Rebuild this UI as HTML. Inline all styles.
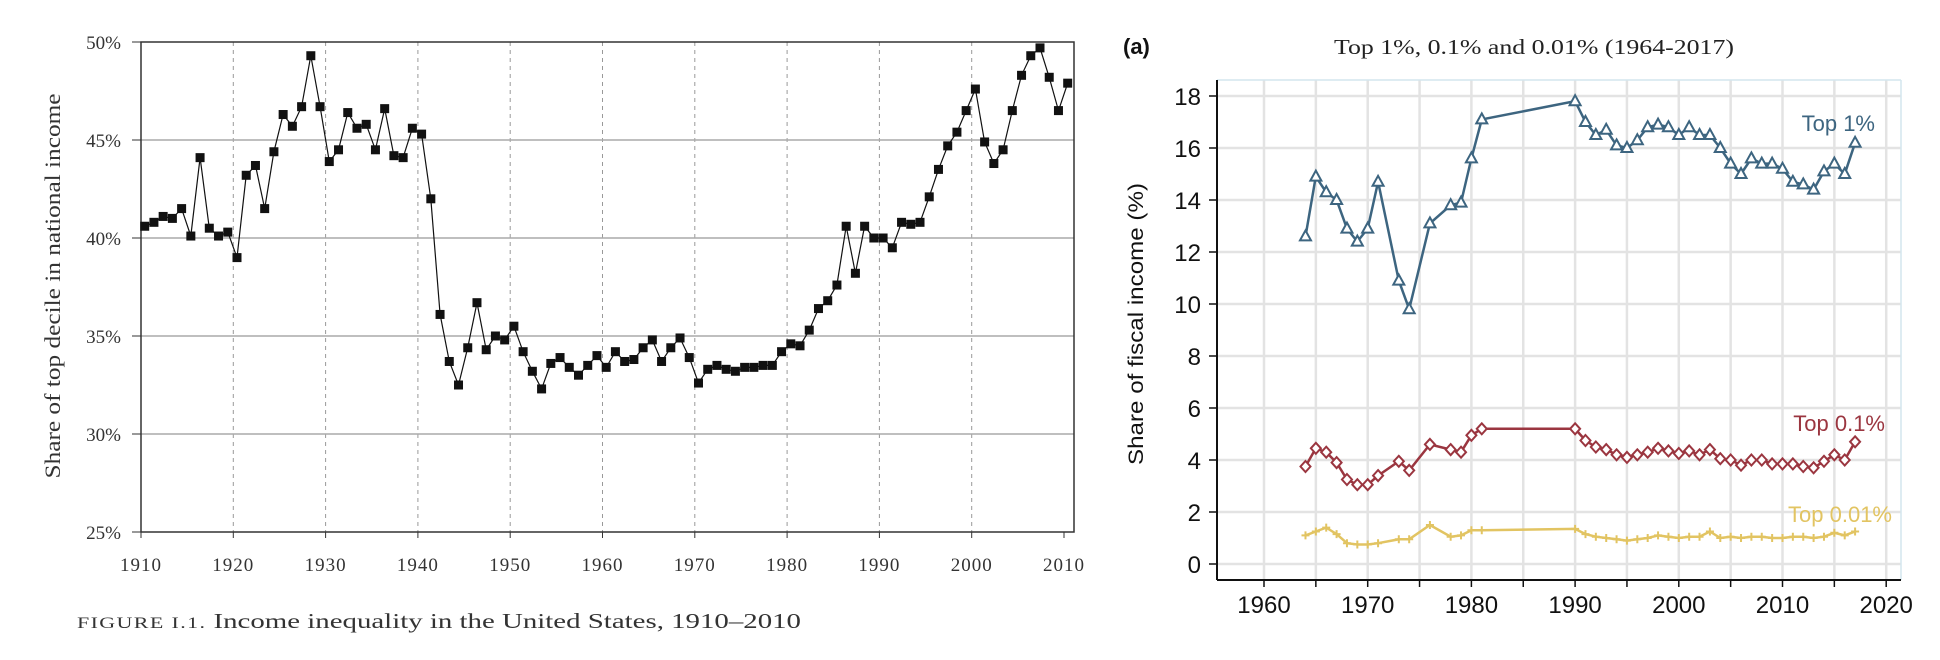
<!DOCTYPE html>
<html><head><meta charset="utf-8"><style>
body{margin:0;background:#fff;width:1940px;height:660px;overflow:hidden}
svg{display:block}
.s{font-family:"Liberation Serif",serif}
.a{font-family:"Liberation Sans",sans-serif}
</style></head><body>
<svg id="c" width="1940" height="660" xmlns="http://www.w3.org/2000/svg"></svg>
<script>
var S=document.getElementById('c'),h='';
// LEFT
var L=141,R=1074,T=42,B=532;
function lx(y){return L+(y-1910)*9.23}
function ly(v){return B-(v-25)*19.6}
for(var d=1920;d<=2000;d+=10)h+='<line x1="'+lx(d)+'" y1="'+T+'" x2="'+lx(d)+'" y2="'+B+'" stroke="#999" stroke-dasharray="4,4" stroke-width="1"/>';
for(var v=30;v<=45;v+=5)h+='<line x1="'+L+'" y1="'+ly(v)+'" x2="'+R+'" y2="'+ly(v)+'" stroke="#aaa" stroke-width="1.5"/>';
h+='<rect x="'+L+'" y="'+T+'" width="'+(R-L)+'" height="'+(B-T)+'" fill="none" stroke="#333" stroke-width="1.5"/>';
for(var v=25;v<=50;v+=5){h+='<line x1="'+(L-9)+'" y1="'+ly(v)+'" x2="'+L+'" y2="'+ly(v)+'" stroke="#333"/>';h+='<text class="s" x="'+(L-20)+'" y="'+(ly(v)+7)+'" font-size="19" text-anchor="end" fill="#333">'+v+'%</text>';}
for(var d=1910;d<=2010;d+=10){h+='<line x1="'+lx(d)+'" y1="'+B+'" x2="'+lx(d)+'" y2="'+(B+6)+'" stroke="#333"/>';h+='<text class="s" x="'+lx(d)+'" y="571" font-size="19" text-anchor="middle" fill="#333" letter-spacing="1">'+d+'</text>';}
h+='<text class="s" transform="translate(60,286) rotate(-90)" font-size="22" text-anchor="middle" fill="#333" textLength="385" lengthAdjust="spacingAndGlyphs">Share of top decile in national income</text>';
h+='<text class="s" x="77" y="628" font-size="21" fill="#333" textLength="724" lengthAdjust="spacingAndGlyphs"><tspan font-size="16" letter-spacing="1">FIGURE I.1.</tspan>  Income inequality in the United States, 1910–2010</text>';
var ld=[40.6,40.8,41.1,41.0,41.5,40.1,44.1,40.5,40.1,40.3,39.0,43.2,43.7,41.5,44.4,46.3,45.7,46.7,49.3,46.7,43.9,44.5,46.4,45.6,45.8,44.5,46.6,44.2,44.1,45.6,45.3,42.0,36.1,33.7,32.5,34.4,36.7,34.3,35.0,34.8,35.5,34.2,33.2,32.3,33.6,33.9,33.4,33.0,33.5,34.0,33.4,34.2,33.7,33.8,34.4,34.8,33.7,34.4,34.9,33.9,32.6,33.3,33.5,33.3,33.2,33.4,33.4,33.5,33.5,34.2,34.6,34.5,35.3,36.4,36.8,37.6,40.6,38.2,40.6,40.0,40.0,39.5,40.8,40.7,40.8,42.1,43.5,44.7,45.4,46.5,47.6,44.9,43.8,44.5,46.5,48.3,49.3,49.7,48.2,46.5,47.9];
var p=ld.map(function(v,i){return lx(1910+i+0.4).toFixed(1)+','+ly(v).toFixed(1)});
h+='<polyline points="'+p.join(' ')+'" fill="none" stroke="#111" stroke-width="1.2"/>';
ld.forEach(function(v,i){h+='<rect x="'+(lx(1910+i+0.4)-4.5)+'" y="'+(ly(v)-4.5)+'" width="9" height="9" fill="#111"/>'});
// RIGHT
var L2=1217,R2=1901,T2=80,B2=580;
function rx(y){return 1264+(y-1960)*10.37}
function ry(v){return 564-v*26}
for(var y=1960;y<=2020;y+=5)h+='<line x1="'+rx(y)+'" y1="'+T2+'" x2="'+rx(y)+'" y2="'+B2+'" stroke="#e3e3e3" stroke-width="2.5"/>';
for(var v=0;v<=18;v+=2)h+='<line x1="'+L2+'" y1="'+ry(v)+'" x2="'+R2+'" y2="'+ry(v)+'" stroke="#e3e3e3" stroke-width="2.5"/>';
h+='<line x1="'+L2+'" y1="'+T2+'" x2="'+R2+'" y2="'+T2+'" stroke="#d4e6ee" stroke-width="1.5"/>';
h+='<line x1="'+R2+'" y1="'+T2+'" x2="'+R2+'" y2="'+B2+'" stroke="#d4e6ee" stroke-width="1.5"/>';
h+='<line x1="'+L2+'" y1="'+T2+'" x2="'+L2+'" y2="'+B2+'" stroke="#111" stroke-width="2"/>';
h+='<line x1="'+L2+'" y1="'+B2+'" x2="'+R2+'" y2="'+B2+'" stroke="#111" stroke-width="2"/>';
for(var v=0;v<=18;v+=2){h+='<line x1="'+(L2-8)+'" y1="'+ry(v)+'" x2="'+L2+'" y2="'+ry(v)+'" stroke="#111" stroke-width="1.5"/>';h+='<text class="a" x="1201" y="'+(ry(v)+9)+'" font-size="24" text-anchor="end" fill="#111">'+v+'</text>';}
for(var y=1960;y<=2020;y+=5){h+='<line x1="'+rx(y)+'" y1="'+B2+'" x2="'+rx(y)+'" y2="'+(B2+7)+'" stroke="#111" stroke-width="1.5"/>';if(y%10==0)h+='<text class="a" x="'+rx(y)+'" y="613" font-size="24" text-anchor="middle" fill="#111">'+y+'</text>';}
h+='<text class="a" transform="translate(1143,324) rotate(-90)" font-size="21" text-anchor="middle" fill="#111" textLength="282" lengthAdjust="spacingAndGlyphs">Share of fiscal income (%)</text>';
h+='<text class="a" x="1123" y="54" font-size="22" font-weight="bold" fill="#111">(a)</text>';
h+='<text class="s" x="1534" y="54" font-size="21" text-anchor="middle" fill="#222" textLength="400" lengthAdjust="spacingAndGlyphs">Top 1%, 0.1% and 0.01% (1964-2017)</text>';
var yrs=[1964,1965,1966,1967,1968,1969,1970,1971,1973,1974,1976,1978,1979,1980,1981,1990,1991,1992,1993,1994,1995,1996,1997,1998,1999,2000,2001,2002,2003,2004,2005,2006,2007,2008,2009,2010,2011,2012,2013,2014,2015,2016,2017];
var t1=[12.6,14.9,14.3,14.0,12.9,12.4,12.9,14.7,10.9,9.8,13.1,13.8,13.9,15.6,17.1,17.8,17.0,16.5,16.7,16.1,16.0,16.3,16.8,16.9,16.8,16.5,16.8,16.5,16.5,16.0,15.4,15.0,15.6,15.4,15.4,15.2,14.7,14.6,14.4,15.1,15.4,15.0,16.2];
var t2=[3.75,4.45,4.3,3.9,3.25,3.05,3.05,3.4,3.95,3.6,4.6,4.4,4.3,4.95,5.2,5.2,4.75,4.5,4.4,4.2,4.1,4.2,4.3,4.45,4.35,4.25,4.35,4.2,4.4,4.05,4.0,3.8,4.0,4.0,3.85,3.85,3.85,3.75,3.7,3.95,4.2,4.0,4.7];
var t3=[1.1,1.25,1.4,1.15,0.8,0.75,0.75,0.8,0.95,0.95,1.5,1.05,1.1,1.3,1.3,1.35,1.15,1.05,1.0,0.95,0.9,0.95,1.0,1.1,1.05,1.0,1.05,1.05,1.25,1.0,1.05,1.0,1.05,1.05,1.0,1.0,1.05,1.05,1.0,1.05,1.2,1.1,1.25];
function ser(d,c,m){var p=d.map(function(v,i){return rx(yrs[i]).toFixed(1)+','+ry(v).toFixed(1)});h+='<polyline points="'+p.join(' ')+'" fill="none" stroke="'+c+'" stroke-width="2.5"/>';
d.forEach(function(v,i){var x=rx(yrs[i]),y=ry(v);
if(m==0)h+='<polygon points="'+x+','+(y-6)+' '+(x+5.5)+','+(y+4)+' '+(x-5.5)+','+(y+4)+'" fill="#fff" stroke="'+c+'" stroke-width="2"/>';
else if(m==1)h+='<polygon points="'+x+','+(y-5.5)+' '+(x+5)+','+y+' '+x+','+(y+5.5)+' '+(x-5)+','+y+'" fill="#fff" stroke="'+c+'" stroke-width="2"/>';
else h+='<path d="M'+(x-4)+','+y+'h8M'+x+','+(y-4)+'v8" stroke="'+c+'" stroke-width="2"/>';});}
ser(t1,'#3d6580',0);ser(t2,'#9b3640',1);ser(t3,'#e2c462',2);
h+='<text class="a" x="1875" y="131" font-size="22" text-anchor="end" fill="#3d6580">Top 1%</text>';
h+='<text class="a" x="1885" y="431" font-size="22" text-anchor="end" fill="#9b3640">Top 0.1%</text>';
h+='<text class="a" x="1892" y="522" font-size="22" text-anchor="end" fill="#e2c462">Top 0.01%</text>';
S.innerHTML=h;
</script>
</body></html>
